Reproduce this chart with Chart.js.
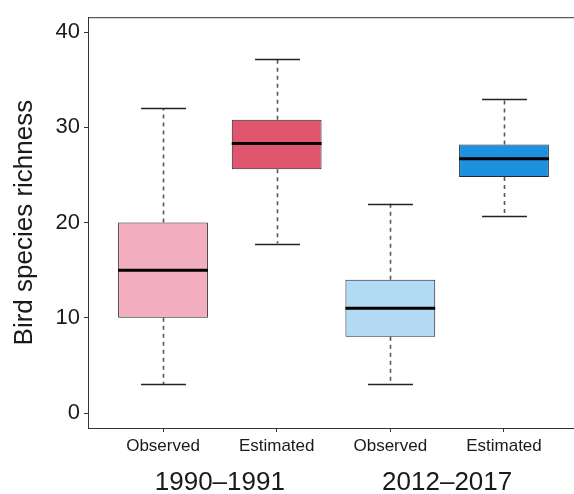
<!DOCTYPE html>
<html>
<head>
<meta charset="utf-8">
<script src="https://cdn.jsdelivr.net/npm/chart.js@4.4.0/dist/chart.umd.min.js"></script>
<style>
  html, body { margin: 0; padding: 0; background: #fff; overflow: hidden; }
  #wrap { width: 574px; height: 494px; }
</style>
</head>
<body>
<div id="wrap"><canvas id="box"></canvas></div>
<script>
// box positions on the x axis and their labels
const positions = [1, 2, 3, 4];
const boxLabels = ['Observed', 'Estimated', 'Observed', 'Estimated'];
const groupLabels = ['1990–1991', '2012–2017'];
const groupCenters = [1.5, 3.5];

// five-number summaries
const whiskerLow = [3, 17.8, 3, 20.7];
const q1 = [10, 25.6, 8, 24.8];
const median = [15, 28.3, 11, 26.7];
const q3 = [20, 30.8, 14, 28.2];
const whiskerHigh = [32, 37.2, 22, 33];

const yTicks = [0, 10, 20, 30, 40];

const boxColors = ['#f3afbf', '#e0566e', '#b3daf4', '#1e90e0'];
const FONT = '"Liberation Sans", Arial, sans-serif';
const INK = '#1a1a1a';

// whiskers, caps, medians, top frame and group labels
const boxParts = {
    id: 'boxParts',
    beforeDatasetsDraw(chart) {
        const { ctx, scales: { x, y } } = chart;
        const bars = chart.getDatasetMeta(0).data;
        ctx.save();
        positions.forEach((p, i) => {
            const px = Math.round(x.getPixelForValue(p)) + 0.5;
            const capHalf = bars[i].width / 4;
            // dashed whiskers
            ctx.strokeStyle = '#555';
            ctx.lineWidth = 1.6;
            ctx.setLineDash([4, 4]);
            ctx.beginPath();
            ctx.moveTo(px, y.getPixelForValue(q3[i]));
            ctx.lineTo(px, y.getPixelForValue(whiskerHigh[i]));
            ctx.moveTo(px, y.getPixelForValue(q1[i]));
            ctx.lineTo(px, y.getPixelForValue(whiskerLow[i]));
            ctx.stroke();
            // caps
            ctx.setLineDash([]);
            ctx.strokeStyle = '#222';
            ctx.lineWidth = 1.3;
            ctx.beginPath();
            [whiskerHigh[i], whiskerLow[i]].forEach(v => {
                const py = Math.round(y.getPixelForValue(v)) + 0.5;
                ctx.moveTo(px - capHalf, py);
                ctx.lineTo(px + capHalf, py);
            });
            ctx.stroke();
        });
        ctx.restore();
    },
    afterDatasetsDraw(chart) {
        const { ctx, chartArea, scales: { x, y } } = chart;
        const bars = chart.getDatasetMeta(0).data;
        ctx.save();
        // medians
        ctx.strokeStyle = '#000';
        ctx.lineWidth = 3;
        positions.forEach((p, i) => {
            const px = x.getPixelForValue(p);
            const half = bars[i].width / 2;
            const py = y.getPixelForValue(median[i]);
            ctx.beginPath();
            ctx.moveTo(px - half, py);
            ctx.lineTo(px + half, py);
            ctx.stroke();
        });
        // top of the panel frame
        ctx.strokeStyle = '#333';
        ctx.lineWidth = 1;
        ctx.beginPath();
        ctx.moveTo(chartArea.left, chartArea.top + 0.5);
        ctx.lineTo(chartArea.right, chartArea.top + 0.5);
        ctx.stroke();
        ctx.restore();
    },
    afterDraw(chart) {
        const { ctx, scales: { x } } = chart;
        ctx.save();
        ctx.fillStyle = INK;
        ctx.font = '26px ' + FONT;
        ctx.textAlign = 'center';
        ctx.textBaseline = 'middle';
        groupLabels.forEach((g, i) => {
            ctx.fillText(g, x.getPixelForValue(groupCenters[i]), 483);
        });
        ctx.restore();
    }
};

new Chart(document.getElementById('box'), {
    type: 'bar',
    data: {
        datasets: [{
            data: positions.map((p, i) => ({ x: p, y: [q1[i], q3[i]] })),
            backgroundColor: boxColors,
            borderColor: '#262626',
            borderWidth: 1,
            borderSkipped: false,
            barPercentage: 0.79,
            categoryPercentage: 1
        }]
    },
    options: {
        responsive: true,
        maintainAspectRatio: false,
        animation: false,
        layout: { padding: { top: 15, left: 0, right: 0, bottom: 0 } },
        plugins: {
            legend: { display: false },
            tooltip: { enabled: false }
        },
        scales: {
            x: {
                type: 'linear',
                offset: false,
                min: 0.34,
                max: 4.616,
                afterBuildTicks: s => { s.ticks = positions.map(v => ({ value: v })); },
                afterFit: s => { s.height = 66; },
                ticks: {
                    callback: (v, i) => boxLabels[i],
                    font: { family: FONT, size: 17 },
                    color: INK,
                    padding: 4,
                    maxRotation: 0,
                    autoSkip: false
                },
                grid: { drawOnChartArea: false, tickLength: 4, color: '#333', offset: false },
                border: { color: '#333', width: 1 }
            },
            y: {
                min: -1.57,
                max: 41.57,
                afterBuildTicks: s => { s.ticks = yTicks.map(v => ({ value: v })); },
                afterFit: s => { s.width = 88; },
                ticks: {
                    font: { family: FONT, size: 22 },
                    color: INK,
                    padding: 4
                },
                grid: { drawOnChartArea: false, tickLength: 4, color: '#333' },
                border: { color: '#333', width: 1 },
                title: {
                    display: true,
                    text: 'Bird species richness',
                    font: { family: FONT, size: 26 },
                    color: INK,
                    padding: { top: 9, bottom: 0 }
                }
            }
        }
    },
    plugins: [boxParts]
});
</script>
</body>
</html>
